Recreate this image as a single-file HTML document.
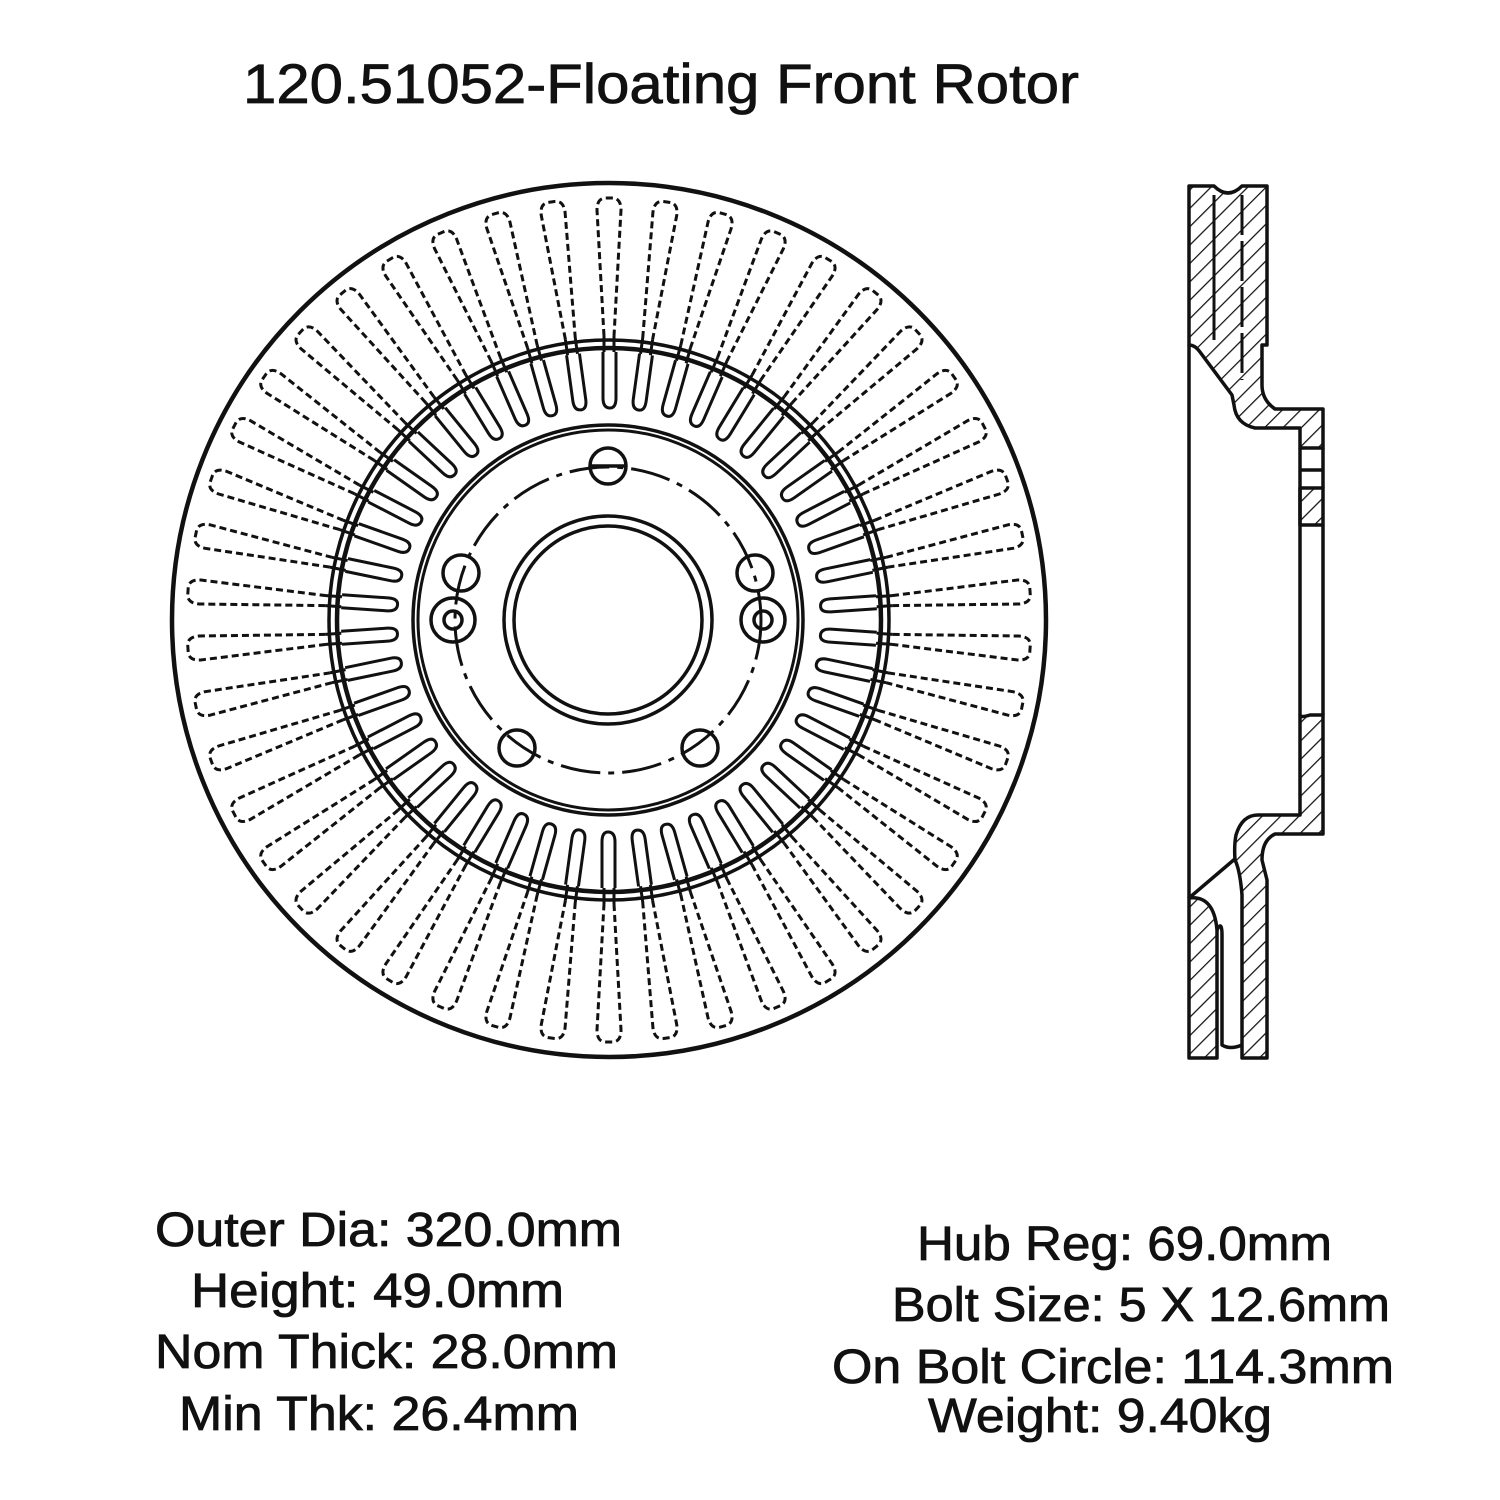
<!DOCTYPE html>
<html><head><meta charset="utf-8"><style>
html,body{margin:0;padding:0;background:#fff;}
svg{display:block}
text{font-family:"Liberation Sans",sans-serif;fill:#111;stroke:#111;stroke-width:0.8}
</style></head><body>
<svg id="s" width="1500" height="1500" viewBox="0 0 1500 1500" xmlns="http://www.w3.org/2000/svg">
<defs>
<pattern id="h" patternUnits="userSpaceOnUse" width="13" height="13" patternTransform="rotate(45)">
<line x1="0" y1="0" x2="0" y2="13" stroke="#111" stroke-width="2.5"/>
</pattern>
</defs>
<text x="243" y="103" font-size="56" textLength="836" lengthAdjust="spacingAndGlyphs">120.51052-Floating Front Rotor</text>

<g fill="none" stroke="#111">
<circle cx="609" cy="620" r="437" stroke-width="4.5"/>
<circle cx="609" cy="620" r="280" stroke-width="3.5"/>
<circle cx="609" cy="620" r="272" stroke-width="4.5"/>
<g id="slots"></g>
<circle cx="608" cy="620" r="195" stroke-width="3.5"/>
<circle cx="608" cy="620" r="190" stroke-width="3"/>
<circle cx="608" cy="620" r="104" stroke-width="3.5"/>
<circle cx="608" cy="620" r="94" stroke-width="3.5"/>
<circle cx="608" cy="620" r="153" stroke-width="3" stroke-dasharray="40 8 6 8"/>
<g stroke-width="3.5">
<circle cx="608" cy="466" r="18"/><line x1="590" y1="466" x2="626" y2="466"/>
<circle cx="517" cy="748" r="18"/><circle cx="700" cy="748" r="18"/>
<circle cx="461" cy="573" r="18"/><circle cx="755" cy="573" r="18"/>
<circle cx="453" cy="620" r="22"/><circle cx="453" cy="620" r="9"/>
<circle cx="763" cy="620" r="22"/><circle cx="763" cy="620" r="9"/>
</g>
</g>

<!-- side view -->
<g stroke="#111" stroke-width="3.5" stroke-linejoin="round">
<path fill="url(#h)" d="M1189,186 L1214,186 Q1228,200 1242,186 L1267,186 L1267,345 L1262,345 L1262,385 Q1262,400 1275,409 L1323,409 L1323,448 L1300,448 L1300,428 L1255,428 Q1236,424 1234,405 L1232,395 L1200,352 Q1195,345 1189,345 Z"/>
<line x1="1214" y1="195" x2="1214" y2="340" stroke-width="3"/>
<line x1="1242" y1="195" x2="1242" y2="380" stroke-width="3" stroke-dasharray="40 6"/>
<path fill="url(#h)" d="M1300,488 L1323,488 L1323,525 L1300,525 Z"/>
<path fill="none" d="M1300,448 L1300,715 M1323,448 L1323,488 M1323,525 L1323,715 M1300,470 L1323,470 M1189,345 L1189,898"/>
<path fill="url(#h)" d="M1300,715 Q1300,718 1310,715 L1323,715 L1323,834 L1275,834 Q1262,840 1262,860 L1267,880 L1267,1058 L1242,1058 L1242,895 Q1240,870 1235,860 Q1234,845 1236,835 Q1242,815 1258,815 L1300,815 Z"/>
<path fill="url(#h)" d="M1189,898 Q1214,895 1217,930 L1217,1058 L1189,1058 Z"/>
<path fill="none" d="M1217,930 Q1222,920 1222,935 L1222,1045 Q1230,1050 1242,1045 M1189,898 L1236,858"/>
</g>

<g font-size="48">
<text x="155" y="1246" textLength="467" lengthAdjust="spacingAndGlyphs">Outer Dia: 320.0mm</text>
<text x="191" y="1307" textLength="373" lengthAdjust="spacingAndGlyphs">Height: 49.0mm</text>
<text x="155" y="1368" textLength="463" lengthAdjust="spacingAndGlyphs">Nom Thick: 28.0mm</text>
<text x="179" y="1430" textLength="400" lengthAdjust="spacingAndGlyphs">Min Thk: 26.4mm</text>
<text x="917" y="1260" textLength="415" lengthAdjust="spacingAndGlyphs">Hub Reg: 69.0mm</text>
<text x="892" y="1321" textLength="498" lengthAdjust="spacingAndGlyphs">Bolt Size: 5 X 12.6mm</text>
<text x="832" y="1383" textLength="562" lengthAdjust="spacingAndGlyphs">On Bolt Circle: 114.3mm</text>
<text x="928" y="1432" textLength="344" lengthAdjust="spacingAndGlyphs">Weight: 9.40kg</text>
</g>
</svg>
<script>
var g=document.getElementById('slots'),N=46,h='';
for(var i=0;i<N;i++){var a=360*i/N;
h+='<g transform="translate(609,620) rotate('+a+')">'+
'<path d="M-5,-284 L-12,-410 Q-12,-422 -3,-422 L3,-422 Q12,-422 12,-410 L5,-284" stroke-width="3" stroke-dasharray="7 4"/>'+
'<path d="M-5,-284 L-5,-268 M5,-284 L5,-268" stroke-width="3"/>'+
'<path d="M-6,-268 L-6,-222 Q-6,-212 1,-212 Q7,-212 7,-222 L7,-268" stroke-width="3"/></g>';}
g.innerHTML=h;
</script>
</body></html>
